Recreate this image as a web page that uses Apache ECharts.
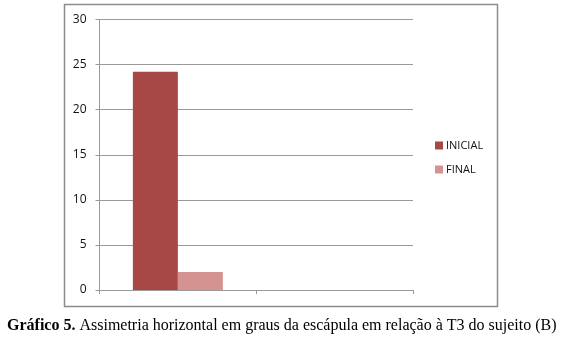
<!DOCTYPE html>
<html><head><meta charset="utf-8">
<script src="https://cdn.jsdelivr.net/npm/echarts@6/dist/echarts.min.js"></script>
<style>html,body{margin:0;padding:0;background:#fff}#c{width:561px;height:347px}</style>
</head><body><div id="c"></div>
<script>
const categories = ['', ''];
const seriesNames = ['INICIAL', 'FINAL'];
const inicial = [24.2, null];
const final = [2.0, null];
const yTicks = [0, 5, 10, 15, 20, 25, 30];
const caption = ['Gráfico 5.', ' Assimetria horizontal em graus da escápula em relação à T3 do sujeito (B)'];

const chart = echarts.init(document.getElementById('c'), null, {renderer: 'canvas'});
chart.setOption({
  animation: false,
  backgroundColor: '#fff',
  grid: {left: 99.5, top: 19.5, right: 148, bottom: 57, containLabel: false},
  legend: {
    orient: 'vertical', left: 430, top: 135, itemWidth: 8, itemHeight: 8, itemGap: 13,
    icon: 'rect',
    textStyle: {fontFamily: 'Open Sans', fontSize: 11, color: '#111', padding: [0, 0, 0, -2]},
    data: seriesNames
  },
  xAxis: {
    type: 'category', data: categories,
    axisLine: {lineStyle: {color: '#9a9a9a', width: 1}},
    axisTick: {show: true, length: 4, lineStyle: {color: '#9a9a9a'}},
    axisLabel: {show: false}
  },
  yAxis: {
    type: 'value', min: yTicks[0], max: yTicks[yTicks.length - 1], interval: 5,
    axisLine: {show: true, lineStyle: {color: '#9a9a9a', width: 1}},
    axisTick: {show: true, length: 4, lineStyle: {color: '#9a9a9a'}},
    splitLine: {lineStyle: {color: '#9a9a9a', width: 1}},
    axisLabel: {fontFamily: 'Open Sans', fontSize: 12, color: '#111', margin: 13}
  },
  series: [
    {name: seriesNames[0], type: 'bar', data: inicial, barWidth: 45, barGap: '0%', itemStyle: {color: '#A84846'}},
    {name: seriesNames[1], type: 'bar', data: final, barWidth: 45, barGap: '0%', itemStyle: {color: '#D49391'}}
  ],
  graphic: [
    {type: 'rect', shape: {x: 64.5, y: 4.5, width: 433, height: 302}, style: {fill: 'none', stroke: '#8c8c8c', lineWidth: 1.5}, z: -1},
    {type: 'text', left: 7, top: 318, style: {
      rich: {b: {fontFamily: 'Liberation Serif', fontWeight: 'bold', fontSize: 16, fill: '#000'},
             n: {fontFamily: 'Liberation Serif', fontSize: 16, fill: '#000'}},
      text: '{b|' + caption[0] + '}{n|' + caption[1] + '}'
    }}
  ]
});
</script></body></html>
